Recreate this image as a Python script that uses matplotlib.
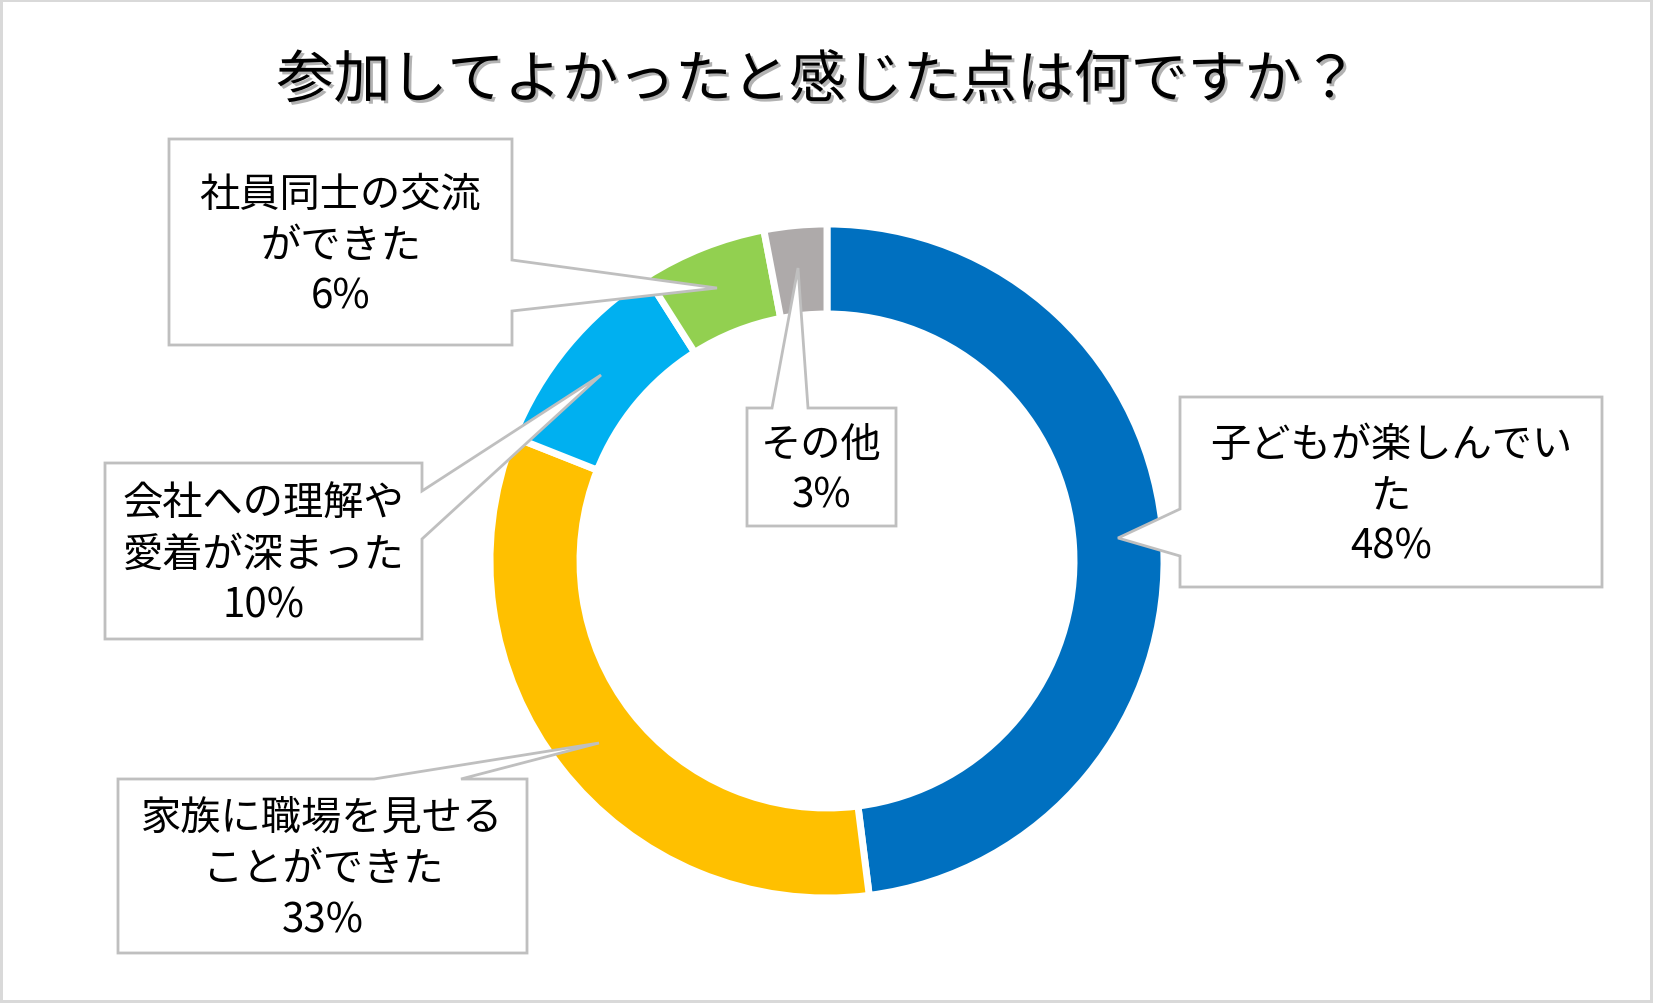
import matplotlib
matplotlib.use("Agg")
import matplotlib.pyplot as plt
from matplotlib.patches import Polygon
import matplotlib.patheffects as pe

plt.rcParams['font.family'] = ['Noto Sans CJK JP', 'DejaVu Sans']

# ---- data ----
title = "参加してよかったと感じた点は何ですか？"
categories = ["子どもが楽しんでいた", "家族に職場を見せることができた",
              "会社への理解や愛着が深まった", "社員同士の交流ができた", "その他"]
label_lines = ["子どもが楽しんでい\nた", "家族に職場を見せる\nことができた",
               "会社への理解や\n愛着が深まった", "社員同士の交流\nができた", "その他"]
values = [48, 33, 10, 6, 3]
colors = ["#0070C0", "#FFC000", "#00B0F0", "#92D050", "#AEAAAA"]

W, H = 1653, 1004
fig = plt.figure(figsize=(W / 100, H / 100), dpi=100,
                 linewidth=3, edgecolor="#D9D9D9")
ax = fig.add_axes([0, 0, 1, 1])

cx, cy = 827, 562
R_out = 337
ring = 90
ax.pie(values, colors=colors, startangle=-90, counterclock=True,
       center=(cx, cy), radius=R_out,
       wedgeprops=dict(width=ring, edgecolor="white", linewidth=5))

ax.set_xlim(0, W)
ax.set_ylim(H, 0)
ax.set_aspect("equal")
ax.axis("off")

# callout boxes (layout)
box_shapes = [
    [(1180, 398), (1602, 398), (1602, 588), (1180, 588), (1180, 557), (1118, 539), (1180, 510)],
    [(118, 780), (374, 780), (599, 744), (461, 780), (527, 780), (527, 954), (118, 954)],
    [(105, 464), (422, 464), (422, 492), (601, 376), (422, 540), (422, 640), (105, 640)],
    [(169, 140), (512, 140), (512, 261), (717, 289), (512, 312), (512, 346), (169, 346)],
    [(747, 409), (772, 409), (798, 269), (808, 409), (896, 409), (896, 527), (747, 527)],
]
box_rects = [(1180, 398, 1602, 588), (118, 780, 527, 954), (105, 464, 422, 640),
             (169, 140, 512, 346), (747, 409, 896, 527)]

for shape, rect, lab, v in zip(box_shapes, box_rects, label_lines, values):
    ax.add_patch(Polygon(shape, closed=True, facecolor="white",
                         edgecolor="#BFBFBF", linewidth=2, zorder=5))
    x0, y0, x1, y1 = rect
    ax.text((x0 + x1) / 2, (y0 + y1) / 2 + 3, f"{lab}\n{v}%",
            ha="center", va="center", fontsize=29, linespacing=1.3,
            color="#000000", zorder=6)

fig.text(818 / W, 1 - 82 / H, title, ha="center", va="center",
         fontsize=41, color="black",
         path_effects=[pe.withSimplePatchShadow(offset=(2, -2),
                                                shadow_rgbFace="#808080",
                                                alpha=0.6)])

fig.savefig("out.png", dpi=100, edgecolor=fig.get_edgecolor())
